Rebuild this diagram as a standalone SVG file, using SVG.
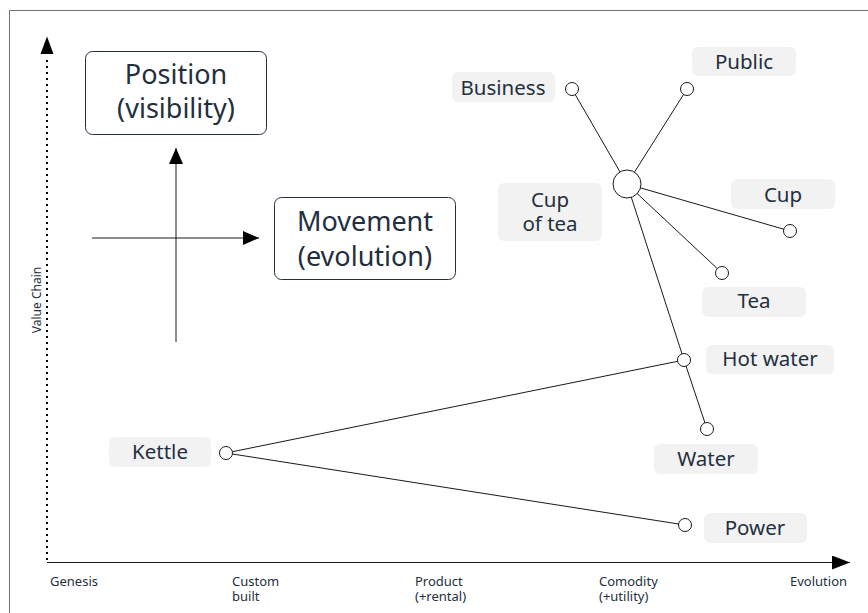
<svg xmlns="http://www.w3.org/2000/svg" width="868" height="613" viewBox="0 0 868 613">
<style>
.lbl{font-family:"Noto Sans","Open Sans",sans-serif;font-size:20.5px;fill:#232f3e;text-anchor:middle}
.big{font-family:"Noto Sans","Open Sans",sans-serif;font-size:27px;fill:#232f3e;text-anchor:middle}
.ax{font-family:"Noto Sans","Open Sans",sans-serif;font-size:13px;fill:#232f3e}
.bg{fill:#f2f2f2;stroke:none}
.box{fill:#fff;stroke:#232f3e;stroke-width:1}
.pt{fill:#fff;stroke:#1a1a1a;stroke-width:1}
.ln{stroke:#1a1a1a;stroke-width:1;fill:none}
</style>
<defs>
<marker id="ah" markerWidth="16" markerHeight="14" refX="16" refY="7" orient="auto" markerUnits="userSpaceOnUse">
<path d="M0,0 L16,7 L0,14 Z" fill="#000"/>
</marker>
<marker id="ah2" markerWidth="18" markerHeight="14" refX="18" refY="7" orient="auto" markerUnits="userSpaceOnUse">
<path d="M0,0 L18,7 L0,14 Z" fill="#000"/>
</marker>
</defs>
<rect x="9.5" y="10.5" width="870" height="620" fill="#fff" stroke="#6b7280" stroke-width="1"/>

<g id="axes">
<line x1="47" y1="560" x2="47" y2="57" stroke="#000" stroke-width="2" stroke-dasharray="2 4"/>
<path d="M47,36.5 L40.5,54 L53.5,54 Z" fill="#000"/>
<line x1="47" y1="562.5" x2="850" y2="562.5" stroke="#1a1a1a" stroke-width="1" marker-end="url(#ah2)"/>
<text class="ax" x="50" y="586">Genesis</text>
<text class="ax" x="232" y="586">Custom<tspan x="232" dy="14.5">built</tspan></text>
<text class="ax" x="415" y="586">Product<tspan x="415" dy="14.5">(+rental)</tspan></text>
<text class="ax" x="599" y="586">Comodity<tspan x="599" dy="14.5">(+utility)</tspan></text>
<text class="ax" x="790" y="586">Evolution</text>
<text class="ax" transform="translate(40.5,300) rotate(-90)" text-anchor="middle" style="font-size:12px">Value Chain</text>
</g>

<g id="legend">
<line x1="176" y1="342" x2="176" y2="148" class="ln" marker-end="url(#ah)"/>
<line x1="92" y1="238" x2="259" y2="238" class="ln" marker-end="url(#ah)"/>
</g>
<g id="position">
<rect class="box" x="85.5" y="51.5" width="181" height="83" rx="7"/>
<text class="big" x="176" y="84">Position</text>
<text class="big" x="176" y="118">(visibility)</text>
</g>
<g id="movement">
<rect class="box" x="274.5" y="197.5" width="181" height="82" rx="7"/>
<text class="big" x="365" y="231">Movement</text>
<text class="big" x="365" y="266">(evolution)</text>
</g>

<g id="connectors">
<line class="ln" x1="627" y1="184" x2="572" y2="89"/>
<line class="ln" x1="627" y1="184" x2="687" y2="89"/>
<line class="ln" x1="627" y1="184" x2="790" y2="231"/>
<line class="ln" x1="627" y1="184" x2="722" y2="273"/>
<line class="ln" x1="627" y1="184" x2="684" y2="360"/>
<line class="ln" x1="684" y1="360" x2="707" y2="429"/>
<line class="ln" x1="226" y1="453" x2="684" y2="360"/>
<line class="ln" x1="226" y1="453" x2="685" y2="525"/>
</g>

<g id="cup-of-tea">
<rect class="bg" x="498" y="183" width="104" height="58" rx="6"/>
<text class="lbl" x="550" y="207">Cup</text>
<text class="lbl" x="550" y="231">of tea</text>
<circle class="pt" cx="627" cy="184" r="14"/>
</g>
<g id="business">
<rect class="bg" x="452" y="72" width="103" height="30" rx="6"/>
<text class="lbl" x="503" y="95">Business</text>
<circle class="pt" cx="572" cy="89" r="6.5"/>
</g>
<g id="public">
<rect class="bg" x="692" y="47" width="104" height="29" rx="6"/>
<text class="lbl" x="744" y="69">Public</text>
<circle class="pt" cx="687" cy="89" r="6.5"/>
</g>
<g id="cup">
<rect class="bg" x="731" y="179" width="104" height="30" rx="6"/>
<text class="lbl" x="783" y="202">Cup</text>
<circle class="pt" cx="790" cy="231" r="6.5"/>
</g>
<g id="tea">
<rect class="bg" x="702" y="287" width="104" height="30" rx="6"/>
<text class="lbl" x="754" y="308">Tea</text>
<circle class="pt" cx="722" cy="273" r="6.5"/>
</g>
<g id="hot-water">
<rect class="bg" x="706" y="345" width="128" height="29" rx="6"/>
<text class="lbl" x="770" y="366">Hot water</text>
<circle class="pt" cx="684" cy="360" r="6.5"/>
</g>
<g id="water">
<rect class="bg" x="654" y="444" width="104" height="30" rx="6"/>
<text class="lbl" x="706" y="466">Water</text>
<circle class="pt" cx="707" cy="429" r="6.5"/>
</g>
<g id="kettle">
<rect class="bg" x="109" y="437" width="102" height="30" rx="6"/>
<text class="lbl" x="160" y="459">Kettle</text>
<circle class="pt" cx="226" cy="453" r="6.5"/>
</g>
<g id="power">
<rect class="bg" x="704" y="513" width="103" height="30" rx="6"/>
<text class="lbl" x="755" y="535">Power</text>
<circle class="pt" cx="685" cy="525" r="6.5"/>
</g>
</svg>
